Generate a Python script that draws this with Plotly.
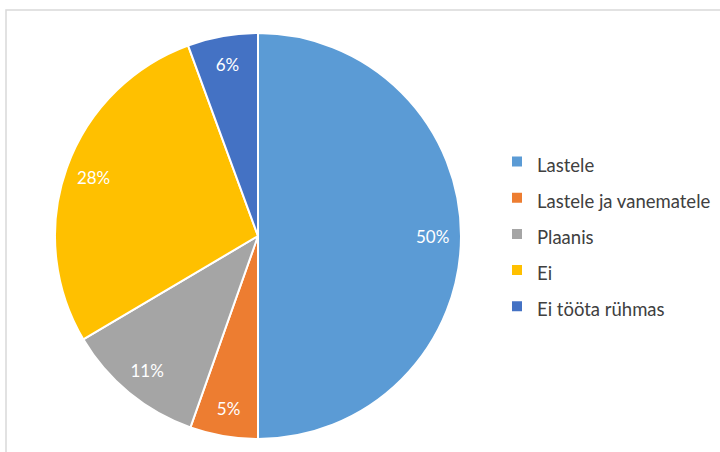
import plotly.graph_objects as go

categories = ["Lastele", "Lastele ja vanematele", "Plaanis", "Ei", "Ei tööta rühmas"]
values = [50.0, 5.4, 11.1, 27.9, 5.6]
colors = ["#5B9BD5", "#ED7D31", "#A5A5A5", "#FFC000", "#4472C4"]

W, H = 720, 452
cx, cy, R = 258, 236, 203
dom = dict(x=[(cx - R) / W, (cx + R) / W], y=[(H - cy - R) / H, (H - cy + R) / H])
FONT = "Lato, Noto Sans, sans-serif"

legend_labels = [f"<span style='font-size:18.5px'>{c}</span>" for c in categories]

fig = go.Figure()
# coloured pie (legend, no text)
fig.add_trace(go.Pie(
    labels=legend_labels,
    values=values,
    sort=False,
    direction="clockwise",
    rotation=0,
    marker=dict(colors=colors, line=dict(color="white", width=2)),
    textinfo="none",
    domain=dom,
    hoverinfo="label+percent",
))
# transparent ring overlay carrying the percentage labels near the rim
fig.add_trace(go.Pie(
    labels=categories,
    values=values,
    sort=False,
    direction="clockwise",
    rotation=0,
    hole=0.72,
    marker=dict(colors=["rgba(0,0,0,0)"] * len(values), line=dict(width=0)),
    texttemplate="%{percent:.0%}",
    textposition="inside",
    insidetextorientation="horizontal",
    textfont=dict(color="white", size=17, family=FONT),
    domain=dom,
    showlegend=False,
    hoverinfo="skip",
))

fig.update_layout(
    width=W, height=H,
    margin=dict(l=0, r=0, t=0, b=0),
    paper_bgcolor="white",
    font=dict(family=FONT, color="#404040"),
    legend=dict(
        x=497 / W, y=(H - 234) / H, xanchor="left", yanchor="middle",
        font=dict(size=25.5, color="#404040", family=FONT),
        bgcolor="rgba(0,0,0,0)",
    ),
    shapes=[dict(type="rect", xref="paper", yref="paper",
                 x0=6 / W, x1=1.02, y0=-0.02, y1=1 - 10 / H,
                 line=dict(color="#D9D9D9", width=1.5), layer="below")],
)

fig.write_html("out.html", config={"displayModeBar": False},
               post_script="document.body.style.margin='0';")
